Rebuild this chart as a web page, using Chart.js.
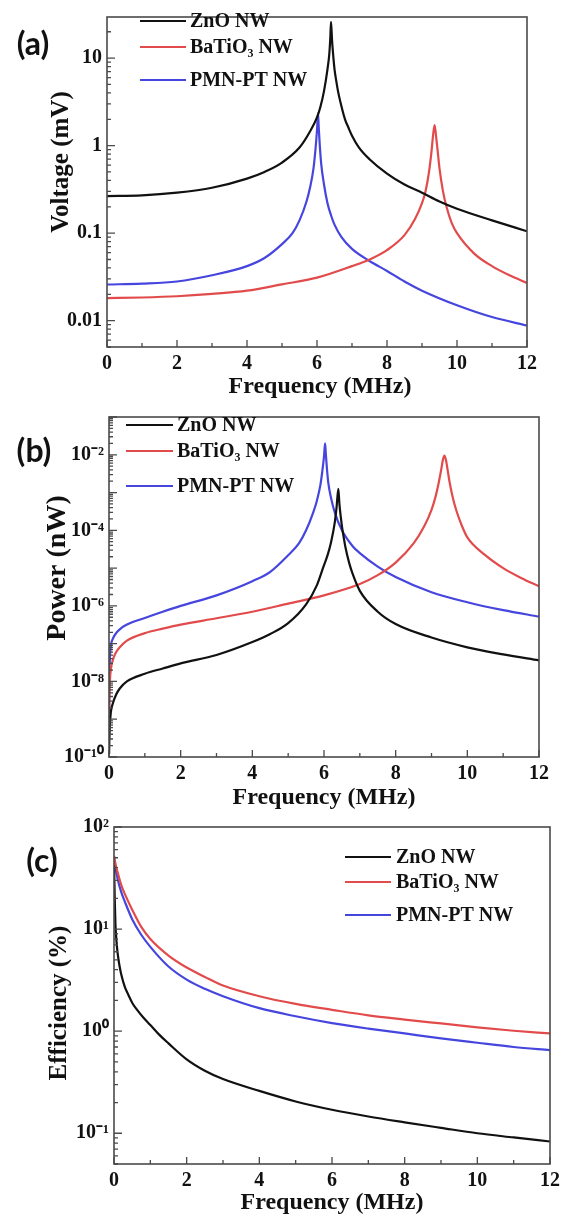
<!DOCTYPE html>
<html><head><meta charset="utf-8">
<script src="https://cdn.jsdelivr.net/npm/chart.js@4.4.0/dist/chart.umd.min.js"></script>
<style>
html,body{margin:0;padding:0;background:#fff;}
body{width:565px;height:1219px;position:relative;overflow:hidden;}
canvas{position:absolute;left:0;}
</style></head><body>
<canvas id="ca" width="565" height="400" style="top:0px;width:565px;height:400px"></canvas>
<canvas id="cb" width="565" height="410" style="top:400px;width:565px;height:410px"></canvas>
<canvas id="cc" width="565" height="409" style="top:810px;width:565px;height:409px"></canvas>
<script>
// ---------- DATA ----------
const seriesNames = ['ZnO NW', 'BaTiO\u2083 NW', 'PMN-PT NW'];
const xTicks = [0, 2, 4, 6, 8, 10, 12];
const xTickLabels = ['0', '2', '4', '6', '8', '10', '12'];

// (a) Voltage (mV)
const aZnO_f = [0, 1, 2, 3, 4, 4.5, 5, 5.5, 5.8, 6.0, 6.1, 6.2, 6.3, 6.35, 6.38, 6.4, 6.43, 6.47, 6.5, 6.55, 6.6, 6.7, 6.8, 6.9, 7.0, 7.2, 7.5, 8, 8.5, 9, 9.5, 10, 11, 12];
const aZnO_v = [0.265, 0.27, 0.29, 0.33, 0.42, 0.5, 0.64, 0.95, 1.45, 2.1, 2.8, 4.2, 7.5, 11, 17, 26, 16, 10, 7.5, 5.5, 4.2, 2.8, 2.0, 1.6, 1.3, 0.95, 0.7, 0.48, 0.36, 0.29, 0.23, 0.19, 0.14, 0.105];
const aBTO_f = [0, 1, 2, 3, 4, 5, 6, 7, 7.5, 8, 8.5, 8.8, 9, 9.1, 9.2, 9.27, 9.32, 9.36, 9.4, 9.45, 9.5, 9.6, 9.7, 9.85, 10, 10.5, 11, 11.5, 12];
const aBTO_v = [0.0181, 0.0184, 0.019, 0.0202, 0.022, 0.026, 0.031, 0.042, 0.05, 0.064, 0.095, 0.145, 0.22, 0.3, 0.5, 0.85, 1.35, 1.72, 1.3, 0.85, 0.55, 0.3, 0.2, 0.13, 0.1, 0.058, 0.042, 0.033, 0.027];
const aPMN_f = [0, 1, 2, 3, 4, 4.5, 5, 5.3, 5.5, 5.7, 5.8, 5.9, 5.95, 6.0, 6.03, 6.05, 6.08, 6.12, 6.2, 6.3, 6.4, 6.5, 6.7, 7, 7.5, 8, 8.5, 9, 10, 11, 12];
const aPMN_v = [0.0259, 0.0265, 0.028, 0.033, 0.042, 0.052, 0.075, 0.1, 0.14, 0.23, 0.33, 0.55, 0.85, 1.5, 2.35, 1.6, 1.0, 0.62, 0.36, 0.22, 0.16, 0.125, 0.09, 0.066, 0.048, 0.037, 0.028, 0.022, 0.015, 0.011, 0.0088];
const aYTicks = [0.01, 0.1, 1, 10];
const aYTickLabels = ['0.01', '0.1', '1', '10'];

// (b) Power (nW)
const bZnO_f = [0.003, 0.01, 0.02, 0.05, 0.1, 0.2, 0.3, 0.5, 1, 1.5, 2, 3, 4, 4.5, 5, 5.5, 5.8, 6, 6.1, 6.2, 6.3, 6.35, 6.4, 6.43, 6.47, 6.5, 6.55, 6.6, 6.7, 6.8, 7, 7.5, 8, 9, 10, 11, 12];
const bZnO_p = [1.2e-10, 3e-10, 6e-10, 1.5e-9, 2.5e-9, 4.5e-9, 6.5e-9, 1.0e-8, 1.6e-8, 2.2e-8, 3e-8, 5e-8, 1.1e-7, 1.8e-7, 3.5e-7, 1.1e-6, 3.5e-6, 1.2e-5, 2.2e-5, 5e-5, 1.6e-4, 4e-4, 1.25e-3, 5e-4, 2.2e-4, 1.3e-4, 6.5e-5, 3.5e-5, 1.4e-5, 7e-6, 2.5e-6, 7e-7, 3.3e-7, 1.45e-7, 8e-8, 5.2e-8, 3.6e-8];
const bBTO_f = [0.003, 0.01, 0.02, 0.05, 0.1, 0.2, 0.3, 0.5, 1, 1.5, 2, 3, 4, 5, 6, 7, 7.5, 8, 8.5, 8.8, 9, 9.1, 9.2, 9.27, 9.32, 9.36, 9.4, 9.45, 9.5, 9.6, 9.7, 9.85, 10, 10.5, 11, 11.5, 12];
const bBTO_p = [3e-10, 3e-9, 8e-9, 2e-8, 3.5e-8, 6e-8, 8e-8, 1.2e-7, 1.9e-7, 2.5e-7, 3.2e-7, 4.7e-7, 7e-7, 1.15e-6, 1.9e-6, 3.8e-6, 6.5e-6, 1.4e-5, 4.5e-5, 1.3e-4, 3.5e-4, 7e-4, 1.8e-3, 4e-3, 7.5e-3, 9.5e-3, 7.5e-3, 4e-3, 2e-3, 7e-4, 3.2e-4, 1.3e-4, 6.5e-5, 2.2e-5, 1e-5, 5.5e-6, 3.3e-6];
const bPMN_f = [0.003, 0.01, 0.02, 0.05, 0.1, 0.2, 0.3, 0.5, 1, 1.5, 2, 3, 4, 4.5, 5, 5.3, 5.5, 5.7, 5.8, 5.9, 5.95, 6.0, 6.03, 6.05, 6.08, 6.12, 6.2, 6.3, 6.5, 6.8, 7, 7.5, 8, 9, 10, 11, 12];
const bPMN_p = [1e-9, 1e-8, 3e-8, 8.5e-8, 1.3e-7, 1.9e-7, 2.4e-7, 3.2e-7, 4.8e-7, 7e-7, 1.0e-6, 1.9e-6, 4.5e-6, 8e-6, 2.2e-5, 4.5e-5, 1.0e-4, 3e-4, 6e-4, 1.6e-3, 3.5e-3, 9e-3, 2.0e-2, 1.1e-2, 4.5e-3, 1.8e-3, 7e-4, 3e-4, 1.0e-4, 3.8e-5, 2.5e-5, 1.1e-5, 5.8e-6, 2.3e-6, 1.25e-6, 7.7e-7, 5.2e-7];
const bYTicks = [1e-10, 1e-8, 1e-6, 1e-4, 1e-2];
const bYTickLabels = ['10\u207B\u00B9\u2070', '10\u207B\u2078', '10\u207B\u2076', '10\u207B\u2074', '10\u207B\u00B2'];

// (c) Efficiency (%)
const cZnO_f = [0.002, 0.01, 0.02, 0.04, 0.07, 0.1, 0.15, 0.2, 0.3, 0.4, 0.5, 0.6, 0.8, 1, 1.25, 1.5, 2, 2.5, 3, 4, 5, 6, 7, 8, 9, 10, 11, 12];
const cZnO_e = [42, 30, 20, 11, 7.5, 5.8, 4.4, 3.6, 2.7, 2.25, 1.9, 1.68, 1.37, 1.15, 0.92, 0.76, 0.53, 0.41, 0.34, 0.26, 0.205, 0.17, 0.146, 0.128, 0.113, 0.1, 0.091, 0.083];
const cBTO_f = [0.005, 0.02, 0.05, 0.1, 0.2, 0.3, 0.5, 0.75, 1, 1.5, 2, 2.5, 3, 4, 5, 6, 7, 8, 9, 10, 11, 12];
const cBTO_e = [52, 48, 42, 36, 27, 22, 15.5, 10.5, 8, 5.5, 4.2, 3.4, 2.8, 2.2, 1.85, 1.62, 1.43, 1.3, 1.19, 1.09, 1.01, 0.95];
const cPMN_f = [0.005, 0.02, 0.05, 0.1, 0.2, 0.3, 0.5, 0.75, 1, 1.5, 2, 2.5, 3, 4, 5, 6, 7, 8, 9, 10, 11, 12];
const cPMN_e = [48, 44, 38, 31, 23, 18.5, 12.5, 8.8, 6.7, 4.3, 3.2, 2.6, 2.2, 1.68, 1.4, 1.2, 1.06, 0.95, 0.85, 0.77, 0.7, 0.65];
const cYTicks = [0.1, 1, 10, 100];
const cYTickLabels = ['10\u207B\u00B9', '10\u2070', '10\u00B9', '10\u00B2'];

// ---------- STYLE ----------
const COL = {black: '#111111', red: '#e24b4b', blue: '#4646df'};
const SERIF = '"Liberation Serif", "Times New Roman", serif';
const AXIS = '#4a4a4a';

function pts(xs, ys) { return xs.map((x, i) => ({x: x, y: ys[i]})); }
function ds(label, xs, ys, color) {
  return {label: label, data: pts(xs, ys), borderColor: color, backgroundColor: color,
    borderWidth: 2.2, pointRadius: 0, cubicInterpolationMode: 'monotone', fill: false};
}

const decor = {
  id: 'decor',
  afterDraw(chart, args, o) {
    const ctx = chart.ctx, a = chart.chartArea;
    const xs = chart.scales.x, ys = chart.scales.y;
    ctx.save();
    ctx.strokeStyle = AXIS; ctx.lineWidth = 1.6;
    ctx.strokeRect(a.left, a.top, a.right - a.left, a.bottom - a.top);
    ctx.lineWidth = 1.3;
    ctx.beginPath();
    for (let v = 0; v <= 12; v++) {
      const px = xs.getPixelForValue(v);
      const len = v % 2 === 0 ? 7 : 4;
      ctx.moveTo(px, a.bottom); ctx.lineTo(px, a.bottom - len);
    }
    const lo = Math.floor(Math.log10(ys.min)), hi = Math.ceil(Math.log10(ys.max));
    for (let k = lo; k <= hi; k++) {
      for (let m = 1; m <= 9; m++) {
        const v = m * Math.pow(10, k);
        if (v < ys.min * 0.999 || v > ys.max * 1.001) continue;
        const py = ys.getPixelForValue(v);
        const len = m === 1 ? 8 : 4;
        ctx.moveTo(a.left, py); ctx.lineTo(a.left + len, py);
      }
    }
    ctx.stroke();
    // axis titles
    ctx.fillStyle = '#111';
    ctx.textAlign = 'center'; ctx.textBaseline = 'middle';
    ctx.font = 'bold 24px ' + SERIF;
    ctx.fillText(o.xTitle, o.xTitleX, o.xTitleY);
    ctx.save();
    ctx.translate(o.yTitleX, o.yTitleY); ctx.rotate(-Math.PI / 2);
    ctx.font = 'bold ' + o.yTitleSize + 'px ' + SERIF;
    ctx.fillText(o.yTitle, 0, 0);
    ctx.restore();
    // panel label
    ctx.font = 'bold 32px Lato, "Open Sans", sans-serif';
    ctx.fillText(o.panel, o.panelX, o.panelY);
    // legend
    ctx.font = 'bold 20px ' + SERIF;
    ctx.textAlign = 'left';
    o.legOrder.forEach((di, r) => {
      const d = chart.data.datasets[di];
      const y = o.legYs[r];
      ctx.strokeStyle = d.borderColor; ctx.lineWidth = 2.2;
      ctx.beginPath(); ctx.moveTo(o.legX1, y); ctx.lineTo(o.legX2, y); ctx.stroke();
      ctx.fillStyle = '#111';
      ctx.fillText(d.label, o.legTX, y + 1);
    });
    ctx.restore();
  }
};

function makeChart(id, datasets, yMin, yMax, yTicks, yTickLabels, geo, deco) {
  const cv = document.getElementById(id);
  const H = cv.height, W = cv.width;
  new Chart(cv, {
    type: 'line',
    data: {datasets: datasets},
    plugins: [decor],
    options: {
      responsive: false, animation: false, devicePixelRatio: 1,
      layout: {autoPadding: false, padding: {left: 0, top: geo.top, right: W - geo.right, bottom: H - geo.bottom - 30}},
      plugins: {legend: {display: false}, tooltip: {enabled: false}, decor: deco},
      scales: {
        x: {
          type: 'linear', min: 0, max: 12,
          grid: {display: false, drawTicks: false}, border: {display: false},
          afterBuildTicks: s => { s.ticks = xTicks.map(v => ({value: v})); },
          afterFit: s => { s.height = 30; },
          ticks: {autoSkip: false, maxRotation: 0, padding: 5, color: '#111',
            font: {family: SERIF, weight: 'bold', size: 20},
            callback: (v) => xTickLabels[xTicks.indexOf(v)]}
        },
        y: {
          type: 'logarithmic', min: yMin, max: yMax,
          grid: {display: false, drawTicks: false}, border: {display: false},
          afterBuildTicks: s => { s.ticks = yTicks.map(v => ({value: v})); },
          afterFit: s => { s.width = geo.left; },
          ticks: {autoSkip: false, padding: 5, color: '#111',
            font: {family: SERIF, weight: 'bold', size: 20},
            callback: (v) => yTickLabels[yTicks.indexOf(v)]}
        }
      }
    }
  });
}

makeChart('ca', [
  ds(seriesNames[0], aZnO_f, aZnO_v, COL.black),
  ds(seriesNames[1], aBTO_f, aBTO_v, COL.red),
  ds(seriesNames[2], aPMN_f, aPMN_v, COL.blue)
], 0.005, 29.5, aYTicks, aYTickLabels, {left: 107, top: 7, right: 527, bottom: 347},
{xTitle: 'Frequency (MHz)', xTitleX: 320, xTitleY: 387, yTitle: 'Voltage (mV)', yTitleX: 62, yTitleY: 162, yTitleSize: 25,
 panel: '(a)', panelX: 33, panelY: 45, legOrder: [0, 1, 2], legX1: 140, legX2: 186, legTX: 190, legYs: [21, 47, 80]});

makeChart('cb', [
  ds(seriesNames[0], bZnO_f, bZnO_p, COL.black),
  ds(seriesNames[1], bBTO_f, bBTO_p, COL.red),
  ds(seriesNames[2], bPMN_f, bPMN_p, COL.blue)
], 1e-10, 1e-1, bYTicks, bYTickLabels, {left: 109, top: 8, right: 539, bottom: 357},
{xTitle: 'Frequency (MHz)', xTitleX: 324, xTitleY: 398, yTitle: 'Power (nW)', yTitleX: 58, yTitleY: 168, yTitleSize: 28,
 panel: '(b)', panelX: 34, panelY: 52, legOrder: [0, 1, 2], legX1: 126, legX2: 173, legTX: 177, legYs: [25, 51, 86]});

makeChart('cc', [
  ds(seriesNames[0], cZnO_f, cZnO_e, COL.black),
  ds(seriesNames[1], cBTO_f, cBTO_e, COL.red),
  ds(seriesNames[2], cPMN_f, cPMN_e, COL.blue)
], 0.05, 100, cYTicks, cYTickLabels, {left: 114, top: 16, right: 550, bottom: 354},
{xTitle: 'Frequency (MHz)', xTitleX: 332, xTitleY: 393, yTitle: 'Efficiency (%)', yTitleX: 60, yTitleY: 193, yTitleSize: 25,
 panel: '(c)', panelX: 42, panelY: 52, legOrder: [0, 1, 2], legX1: 345, legX2: 391, legTX: 396, legYs: [47, 72, 105]});
</script>
</body></html>
